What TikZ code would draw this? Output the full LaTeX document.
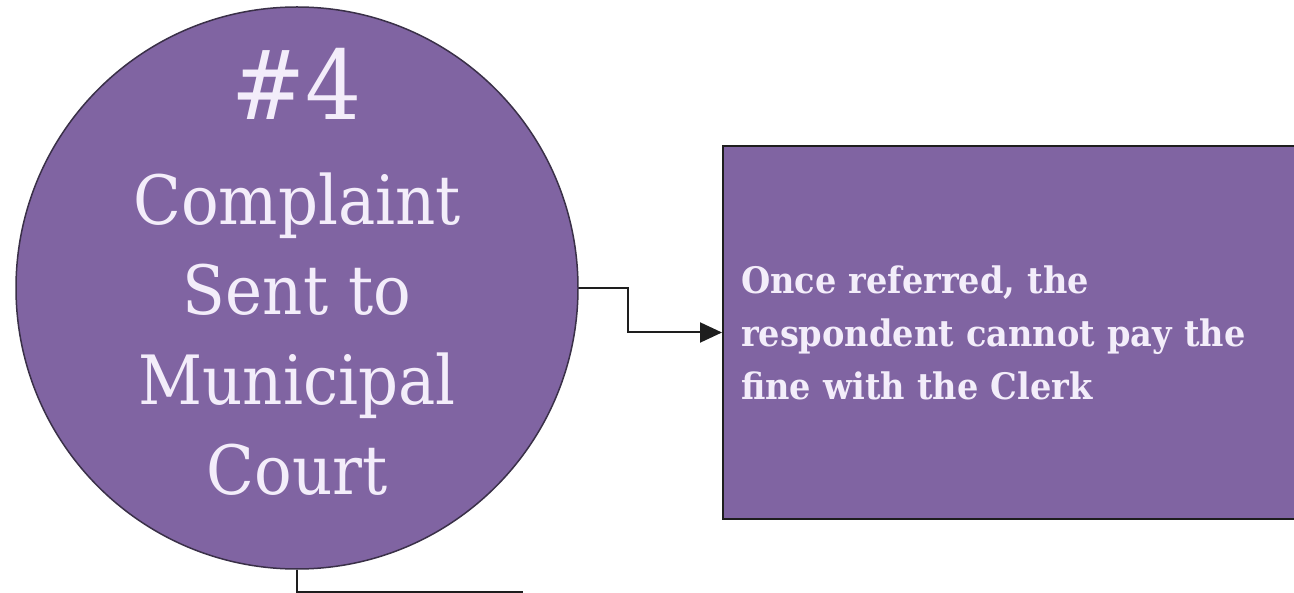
\documentclass[tikz,border=0pt]{standalone}
\usepackage{fontspec}
\setmainfont{DejaVu Serif}[FakeStretch=0.92]
\usetikzlibrary{arrows.meta}
\definecolor{purpfill}{HTML}{8064A2}
\definecolor{purptext}{HTML}{F3EDFA}
\definecolor{circedge}{HTML}{3A3048}
\definecolor{lineclr}{HTML}{1E1E1E}
\tikzset{
  stepcircle/.style={circle, fill=purpfill, draw=circedge, line width=1.5pt,
    minimum size=562pt, inner sep=-80pt, text=purptext, align=center,
    font=\fontsize{68}{90}\selectfont},
  notebox/.style={rectangle, fill=purpfill, draw=lineclr, line width=2pt,
    minimum width=588pt, minimum height=373pt, inner xsep=18pt,
    text width=552pt, align=left, text=purptext,
    font=\bfseries\fontsize{36.5}{53}\selectfont},
  conn/.style={draw=lineclr, line width=2pt},
}
\begin{document}
\begin{tikzpicture}[x=1pt,y=-1pt]
\useasboundingbox[fill=white] (0,0) rectangle (1294,593);
\node[stepcircle] (c) at (297,288)
  {{\fontsize{96}{104}\selectfont\#4}\\[15pt]Complaint\\Sent to\\Municipal\\Court\rule[-34pt]{0pt}{0pt}};
\node[notebox, anchor=north west] (r) at (722,145)
  {Once referred, the\\respondent cannot pay the\\fine with the Clerk};
\draw[conn, -{Triangle[length=22pt,width=20pt]}] (c.east) -- (628,288) |- (r.west);
\coordinate (e) at (523,592);
\draw[conn] (c.south) |- (e);
\end{tikzpicture}
\end{document}
